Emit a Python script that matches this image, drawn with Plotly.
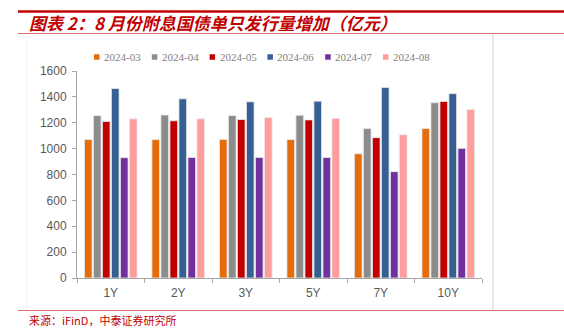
import plotly.graph_objects as go

categories = ["1Y", "2Y", "3Y", "5Y", "7Y", "10Y"]
series_names = ["2024-03", "2024-04", "2024-05", "2024-06", "2024-07", "2024-08"]
s_2024_03 = [1070, 1070, 1070, 1070, 960, 1155]
s_2024_04 = [1255, 1260, 1255, 1258, 1155, 1355]
s_2024_05 = [1210, 1215, 1225, 1222, 1085, 1365]
s_2024_06 = [1465, 1385, 1362, 1367, 1472, 1425]
s_2024_07 = [930, 932, 931, 931, 822, 1002]
s_2024_08 = [1230, 1230, 1240, 1233, 1107, 1303]
series_values = [s_2024_03, s_2024_04, s_2024_05, s_2024_06, s_2024_07, s_2024_08]
colors = ["#E46C0A", "#8C8C8C", "#C00000", "#376092", "#7030A0", "#FF9D9D"]
y_ticks = [0, 200, 400, 600, 800, 1000, 1200, 1400, 1600]

title_text = "图表 2：8 月份附息国债单只发行量增加（亿元）"
source_text = "来源：iFinD，中泰证券研究所"

W, H = 564, 334
L, R, T, B = 77, 82, 71, 56
PW, PH = W - L - R, H - T - B


def px(x):
    return (x - L) / PW


def py(y):
    return (H - B - y) / PH


fig = go.Figure()
for name, vals, col in zip(series_names, series_values, colors):
    fig.add_trace(go.Bar(
        x=categories, y=vals, name=name, showlegend=False,
        marker=dict(color=col, line=dict(color="#EAEAEA", width=0.8)),
    ))

fig.update_layout(
    width=W, height=H,
    margin=dict(l=L, r=R, t=T, b=B, pad=0),
    paper_bgcolor="white", plot_bgcolor="white",
    barmode="group", bargap=0.2, bargroupgap=0.15,
    font=dict(family="Liberation Sans, Arial", size=12, color="#595959"),
    showlegend=False,
    xaxis=dict(
        showline=True, linecolor="#A6A6A6", linewidth=1,
        ticks="outside", tickson="boundaries", ticklen=4, tickcolor="#A6A6A6",
        showgrid=False, tickfont=dict(size=12, color="#595959"), ticklabelstandoff=4,
    ),
    yaxis=dict(
        range=[0, 1600], tickvals=y_ticks, showline=True, linecolor="#A6A6A6", linewidth=1,
        ticks="outside", ticklen=4, tickcolor="#A6A6A6", showgrid=False, zeroline=False,
        tickfont=dict(size=12, color="#595959"), ticklabelstandoff=3,
    ),
)

shapes = [
    dict(type="line", xref="paper", yref="paper", x0=px(18), x1=px(564), y0=py(11.5), y1=py(11.5),
         line=dict(color="#C00000", width=2.5)),
    dict(type="line", xref="paper", yref="paper", x0=px(18), x1=px(564), y0=py(33.5), y1=py(33.5),
         line=dict(color="#E07070", width=1)),
    dict(type="line", xref="paper", yref="paper", x0=px(18), x1=px(564), y0=py(310.5), y1=py(310.5),
         line=dict(color="#E07070", width=1)),
    dict(type="line", xref="paper", yref="paper", x0=px(493), x1=px(493), y0=py(34), y1=py(310),
         line=dict(color="#D0D0D0", width=1)),
    dict(type="line", xref="paper", yref="paper", x0=px(27), x1=px(27), y0=py(40), y1=py(310),
         line=dict(color="#F0F0F0", width=1)),
]

# legend (manual): colored squares + labels
leg_x0, leg_step, leg_y = 94.0, 57.8, 57.0
for i, (name, col) in enumerate(zip(series_names, colors)):
    sx = leg_x0 + i * leg_step
    shapes.append(dict(
        type="rect", xref="paper", yref="paper",
        x0=px(sx), x1=px(sx + 5.5), y0=py(leg_y - 2.75), y1=py(leg_y + 2.75),
        fillcolor=col, line=dict(width=0),
    ))
    fig.add_annotation(
        xref="paper", yref="paper", x=px(sx + 8), y=py(leg_y), xanchor="left", yanchor="middle",
        text=name, showarrow=False,
        font=dict(family="Liberation Serif, Times New Roman", size=11, color="#7F7F7F"),
    )
fig.update_layout(shapes=shapes)

fig.add_annotation(
    xref="paper", yref="paper", x=px(27), y=py(22.5), xanchor="left", yanchor="middle",
    text="<b><i>" + title_text + "</i></b>", showarrow=False,
    font=dict(family="Noto Sans CJK SC", size=17, color="#C00000"),
)
fig.add_annotation(
    xref="paper", yref="paper", x=px(27), y=py(320), xanchor="left", yanchor="middle",
    text=source_text, showarrow=False,
    font=dict(family="Noto Sans CJK SC", size=11, color="#C00000"),
)

fig.write_html("out.html")
